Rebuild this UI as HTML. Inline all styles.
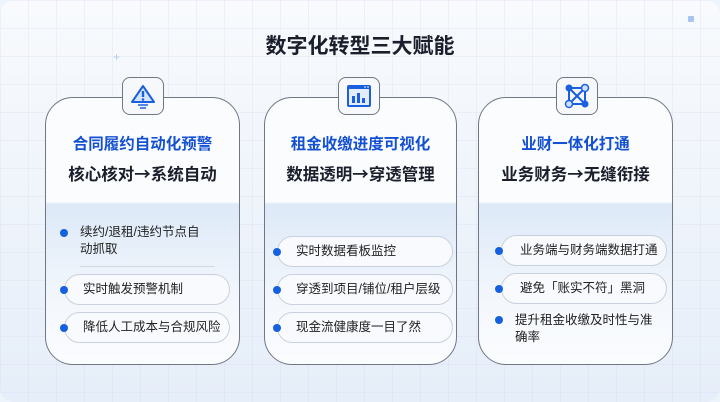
<!DOCTYPE html>
<html><head><meta charset="utf-8"><style>
*{margin:0;padding:0;box-sizing:border-box}
body{width:720px;height:402px;overflow:hidden;font-family:"Liberation Sans","Noto Sans CJK SC",sans-serif;background:#eef4fb;position:relative}
.bg{position:absolute;inset:0;border-radius:14px;background-image:linear-gradient(rgba(200,215,235,.25) 1px,transparent 1px),linear-gradient(90deg,rgba(200,215,235,.25) 1px,transparent 1px),linear-gradient(180deg,#f8fafd,#e6eef9);background-size:28px 28px,28px 28px,100% 100%}
h1{position:absolute;top:30px;left:0;width:720px;text-align:center;font-size:21px;font-weight:bold;color:#1a1f2b}
.card{position:absolute;top:97px;height:268px;border:1.5px solid #6f7785;border-radius:28px;background:linear-gradient(180deg,#fbfcfe 0%,#fbfcfe 39%,#dde9f8 40%,#f3f7fc 75%,#fbfcfe 100%);overflow:hidden}
.icon{position:absolute;top:77px;width:42px;height:38px;border:1.5px solid #6f7785;border-radius:8px;background:#f6f8fc;display:flex;align-items:center;justify-content:center}
.t1{position:absolute;top:34px;width:100%;text-align:center;color:#1450d2;font-weight:bold;font-size:15.5px}
.t2{position:absolute;top:63px;width:100%;text-align:center;color:#1a1f2b;font-weight:bold;font-size:16.5px}
.ar{font-family:"Noto Sans CJK SC",sans-serif}
.pill{position:absolute;height:31px;border:1px solid #c9d1de;border-radius:16px;background:#f8fafd;font-size:12.5px;color:#222;line-height:29px;padding-left:18px}
.dot{position:absolute;width:8px;height:8px;border-radius:50%;background:#1560e0}
.txt{position:absolute;font-size:12.5px;color:#222;line-height:14px}
</style></head><body>
<div class="bg"></div>
<div style="position:absolute;left:688px;top:16px;width:6px;height:6px;background:#a9c4ee;border-radius:1px"></div>
<div style="position:absolute;left:113px;top:50px;color:#b8cbe6;font-size:12px">+</div>
<h1>数字化转型三大赋能</h1>

<div class="card" style="left:45px;width:195px">
<div class="t1">合同履约自动化预警</div><div class="t2">核心核对<span class="ar">→</span>系统自动</div>
<div class="dot" style="left:14px;top:131px"></div>
<div class="txt" style="left:34px;top:126px;width:130px;line-height:17px">续约/退租/违约节点自动抓取</div>
<div style="position:absolute;left:34px;top:168px;width:135px;height:1px;background:#d3d9e3"></div>
<div class="pill" style="left:18px;top:176px;width:166px">实时触发预警机制</div>
<div class="dot" style="left:14px;top:188px"></div>
<div class="pill" style="left:18px;top:214px;width:166px">降低人工成本与合规风险</div>
<div class="dot" style="left:14px;top:226px"></div>
</div>

<div class="card" style="left:264px;width:193px">
<div class="t1">租金收缴进度可视化</div><div class="t2">数据透明<span class="ar">→</span>穿透管理</div>
<div class="pill" style="left:12px;top:138px;width:176px">实时数据看板监控</div>
<div class="dot" style="left:8px;top:150px"></div>
<div class="pill" style="left:12px;top:176px;width:176px">穿透到项目/铺位/租户层级</div>
<div class="dot" style="left:8px;top:188px"></div>
<div class="pill" style="left:12px;top:214px;width:176px">现金流健康度一目了然</div>
<div class="dot" style="left:8px;top:226px"></div>
</div>

<div class="card" style="left:478px;width:195px">
<div class="t1">业财一体化打通</div><div class="t2">业务财务<span class="ar">→</span>无缝衔接</div>
<div class="pill" style="left:22px;top:137px;width:166px">业务端与财务端数据打通</div>
<div class="dot" style="left:16px;top:149px"></div>
<div class="pill" style="left:22px;top:175px;width:166px">避免「账实不符」黑洞</div>
<div class="dot" style="left:16px;top:187px"></div>
<div class="dot" style="left:16px;top:218px"></div>
<div class="txt" style="left:36px;top:214px;width:140px;line-height:17px">提升租金收缴及时性与准确率</div>
</div>

<div class="icon" style="left:122px"><svg width="28" height="26" viewBox="0 0 28 26"><path d="M14 3 L25 19 H3 Z" fill="#d6e4fb" stroke="#1a5fe0" stroke-width="2" stroke-linejoin="round"/><line x1="14" y1="8" x2="14" y2="14" stroke="#1a5fe0" stroke-width="2.4"/><circle cx="14" cy="16.5" r="1.3" fill="#1a5fe0"/><line x1="9" y1="22" x2="19" y2="22" stroke="#1a5fe0" stroke-width="1.5"/><line x1="11" y1="25" x2="17" y2="25" stroke="#1a5fe0" stroke-width="1.5"/></svg></div>
<div class="icon" style="left:338px"><svg width="26" height="24" viewBox="0 0 26 24"><rect x="1" y="1" width="24" height="22" rx="2" fill="#1a5fe0"/><rect x="3" y="5" width="20" height="16" fill="#e4edfc"/><rect x="6" y="12" width="3" height="7" fill="#1a5fe0"/><rect x="11" y="9" width="3" height="10" fill="#1a5fe0"/><rect x="16" y="14" width="3" height="5" fill="#1a5fe0"/><circle cx="19" cy="3" r=".8" fill="#fff"/><circle cx="22" cy="3" r=".8" fill="#fff"/></svg></div>
<div class="icon" style="left:556px"><svg width="28" height="28" viewBox="0 0 28 28"><g stroke="#1a5fe0" stroke-width="2"><line x1="6" y1="6" x2="22" y2="6"/><line x1="6" y1="6" x2="22" y2="22"/><line x1="22" y1="6" x2="6" y2="22"/><line x1="6" y1="22" x2="22" y2="22"/><line x1="6" y1="6" x2="6" y2="22"/><line x1="22" y1="6" x2="22" y2="22"/></g><circle cx="6" cy="6" r="3.5" fill="#1a5fe0"/><circle cx="22" cy="6" r="3.5" fill="#cfe0fb" stroke="#1a5fe0" stroke-width="1.5"/><circle cx="6" cy="22" r="3.5" fill="#cfe0fb" stroke="#1a5fe0" stroke-width="1.5"/><circle cx="22" cy="22" r="3.5" fill="#1a5fe0"/></svg></div>
</body></html>
